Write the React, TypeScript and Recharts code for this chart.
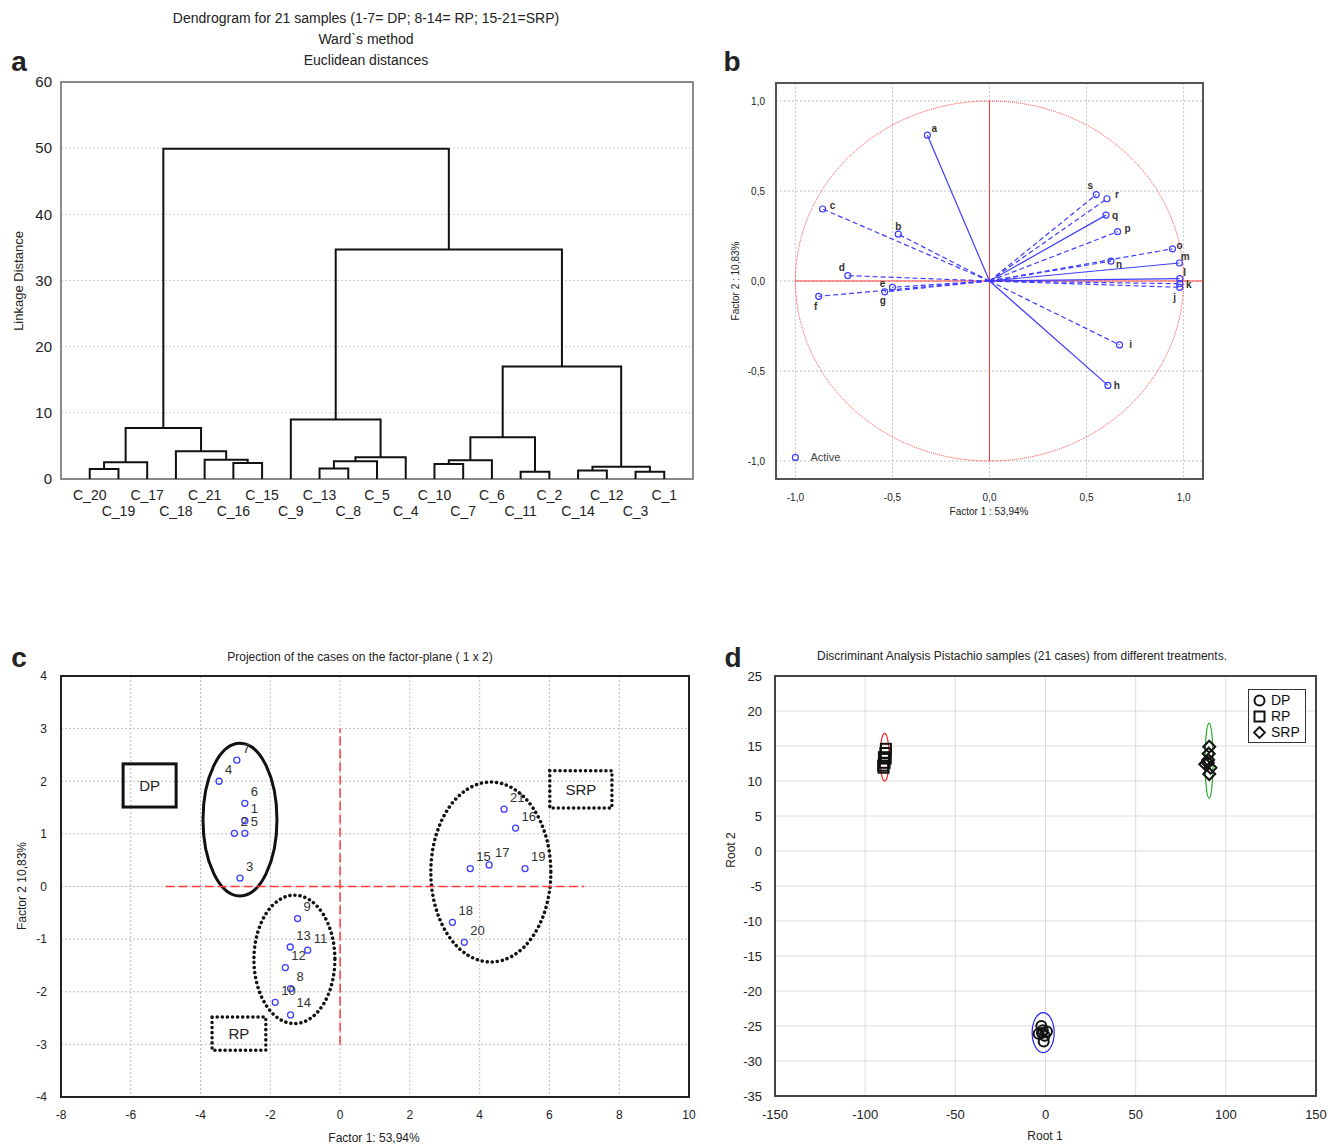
import React from 'react';
import { ScatterChart, Scatter, XAxis, YAxis, CartesianGrid, ReferenceArea, ReferenceLine, ReferenceDot, Legend } from 'recharts';

const FONT = '"Liberation Sans", Arial, Helvetica, sans-serif';
const TXT = '#222';

// ---------------- Panel a: dendrogram ----------------
const leafLabels = ['C_20','C_19','C_17','C_18','C_21','C_16','C_15','C_9','C_13','C_8','C_5','C_4','C_10','C_7','C_6','C_11','C_2','C_14','C_12','C_3','C_1'];
// merge k creates cluster id 21 + k (leaf ids 0..20)
const mergeLeft = [0, 21, 5, 4, 3, 22, 8, 27, 28, 7, 12, 31, 15, 32, 17, 19, 35, 34, 30, 26];
const mergeRight = [1, 2, 6, 23, 24, 25, 9, 10, 11, 29, 13, 14, 16, 33, 18, 20, 36, 37, 38, 39];
const mergeHeight = [1.5, 2.55, 2.4, 2.9, 4.2, 7.7, 1.6, 2.7, 3.3, 9.0, 2.25, 2.85, 1.1, 6.3, 1.3, 1.1, 1.85, 17.0, 34.7, 49.9];
const linkageTicks = [0, 10, 20, 30, 40, 50, 60];

// ---------------- Panel b: loadings ----------------
const varNames = ['a','b','c','d','e','f','g','h','i','j','k','l','m','n','o','p','q','r','s'];
const loadF1 = [-0.32, -0.47, -0.86, -0.73, -0.50, -0.88, -0.54, 0.61, 0.67, 0.98, 0.98, 0.98, 0.978, 0.626, 0.943, 0.66, 0.60, 0.605, 0.55];
const loadF2 = [0.81, 0.26, 0.40, 0.03, -0.035, -0.085, -0.06, -0.58, -0.355, -0.035, -0.015, 0.013, 0.10, 0.11, 0.179, 0.274, 0.366, 0.457, 0.48];
const solidVars = ['a', 'h', 'l', 'm', 'q'];
const loadTicks = [-1, -0.5, 0, 0.5, 1];

// ---------------- Panel c: case scores ----------------
const caseIds = ['1','2','3','4','5','6','7','8','9','10','11','12','13','14','15','16','17','18','19','20','21'];
const caseF1 = [-2.73, -3.03, -2.87, -3.47, -2.73, -2.73, -2.96, -1.42, -1.22, -1.86, -0.93, -1.57, -1.43, -1.42, 3.73, 5.03, 4.27, 3.22, 5.30, 3.56, 4.70];
const caseF2 = [1.25, 1.01, 0.16, 2.0, 1.01, 1.58, 2.40, -1.94, -0.61, -2.20, -1.21, -1.54, -1.15, -2.44, 0.34, 1.11, 0.41, -0.68, 0.34, -1.06, 1.47];
const groupNames = ['DP', 'RP', 'SRP'];
const groupEllX = [-2.87, -1.31, 4.32];
const groupEllY = [1.27, -1.385, 0.275];
const groupEllRx = [1.06, 1.16, 1.72];
const groupEllRy = [1.45, 1.22, 1.71];
const groupBoxX1 = [-6.22, -3.67, 6.01];
const groupBoxX2 = [-4.70, -2.13, 7.79];
const groupBoxY1 = [1.51, -3.11, 1.49];
const groupBoxY2 = [2.33, -2.48, 2.20];
const cXTicks = [-8, -6, -4, -2, 0, 2, 4, 6, 8, 10];
const cYTicks = [-4, -3, -2, -1, 0, 1, 2, 3, 4];

// ---------------- Panel d: discriminant roots ----------------
const dpRoot1 = [-2.3, 0.8, -3.8, -1.0, -1.5, -0.5, -2.0];
const dpRoot2 = [-25.0, -25.8, -26.1, -27.2, -25.6, -26.4, -26.0];
const rpRoot1 = [-88.5, -88.8, -89.6, -88.6, -90.0, -89.8, -89.2];
const rpRoot2 = [14.6, 14.0, 13.4, 13.2, 12.2, 11.9, 12.6];
const srpRoot1 = [90.8, 90.5, 90.2, 88.6, 91.5, 90.8, 90.0];
const srpRoot2 = [14.9, 13.9, 13.0, 12.4, 11.9, 11.0, 12.6];
const rootEllX = [-1.3, -89.2, 90.7];
const rootEllY = [-25.95, 13.4, 12.9];
const rootEllRx = [6.1, 2.5, 2.2];
const rootEllRy = [2.86, 3.4, 5.36];
const dXTicks = [-150, -100, -50, 0, 50, 100, 150];
const dYTicks = [25, 20, 15, 10, 5, 0, -5, -10, -15, -20, -25, -30, -35];

// ---------------- styling maps ----------------
const BLUE = '#3d3dff';
const RED = '#ff3b3b';
const vecLabelOffset: Record<string, [number, number]> = {
  a: [7, -7], b: [0, -8], c: [10, -4], d: [-6, -8], e: [-10, -4], f: [-3, 10], g: [-2, 9],
  h: [9, 0], i: [11, 0], j: [-5, 10], k: [9, 1], l: [5, -6], m: [6, -7], n: [8, 3],
  o: [7, -3], p: [10, -3], q: [9, 0], r: [10, -4], s: [-6, -9],
};
const ellColors = ['#2222ff', '#ff2222', '#22aa22'];

// ---------------- derived data ----------------
const dendroLinks = (() => {
  const pos = leafLabels.map((_, i) => ({ x: i + 1, y: 0 }));
  const links: { x: number; y: number }[][] = [];
  mergeLeft.forEach((a, k) => {
    const b = mergeRight[k];
    const h = mergeHeight[k];
    const A = pos[a];
    const B = pos[b];
    links.push([{ x: A.x, y: A.y }, { x: A.x, y: h }, { x: B.x, y: h }, { x: B.x, y: B.y }]);
    pos.push({ x: (A.x + B.x) / 2, y: h });
  });
  return links;
})();
const leafTicks = leafLabels.map((_, i) => i + 1);

const vectors = varNames.map((name, i) => ({
  name,
  solid: solidVars.includes(name),
  data: [{ x: 0, y: 0, tip: false, name }, { x: loadF1[i], y: loadF2[i], tip: true, name }],
}));

const cases = caseIds.map((id, i) => ({ x: caseF1[i], y: caseF2[i], id }));
const dpPts = dpRoot1.map((x, i) => ({ x, y: dpRoot2[i] }));
const rpPts = rpRoot1.map((x, i) => ({ x, y: rpRoot2[i] }));
const srpPts = srpRoot1.map((x, i) => ({ x, y: srpRoot2[i] }));

const Empty = () => <g />;

function T(p: { x: number; y: number; size: number; children: React.ReactNode; bold?: boolean; rotate?: boolean }) {
  return (
    <div
      style={{
        position: 'absolute', left: p.x, top: p.y,
        transform: `translate(-50%,-50%)${p.rotate ? ' rotate(-90deg)' : ''}`,
        fontSize: p.size, fontWeight: p.bold ? 700 : 400, fontFamily: FONT,
        whiteSpace: 'nowrap', color: TXT, lineHeight: 1,
      }}
    >
      {p.children}
    </div>
  );
}

// ---------------- Panel A ----------------
function LeafTick(props: any) {
  const { x, y, payload } = props;
  const i = Math.round(payload.value) - 1;
  if (i < 0 || i >= leafLabels.length) return <g />;
  return (
    <text x={x} y={y + (i % 2 === 0 ? 21 : 37)} textAnchor="middle" fontSize={14} fill={TXT} fontFamily={FONT}>
      {leafLabels[i]}
    </text>
  );
}

function PanelA() {
  return (
    <ScatterChart width={700} height={530} margin={{ top: 82, right: 7, bottom: 6, left: 0 }}>
      <CartesianGrid vertical={false} stroke="#cfcfcf" strokeDasharray="2 2" />
      <XAxis type="number" dataKey="x" domain={[0, 22]} ticks={leafTicks} interval={0} tick={LeafTick}
        tickLine={false} axisLine={false} tickSize={0} tickMargin={0} height={45} allowDataOverflow />
      <YAxis type="number" dataKey="y" domain={[0, 60]} ticks={linkageTicks} interval={0} tickLine={false}
        axisLine={false} width={61} tickSize={0} tickMargin={9}
        tick={{ fontSize: 15, fill: TXT, fontFamily: FONT }} allowDataOverflow />
      {dendroLinks.map((pts, k) => (
        <Scatter key={k} data={pts} line={{ stroke: '#111', strokeWidth: 2 }} shape={Empty} isAnimationActive={false} />
      ))}
      <ReferenceArea x1={0} x2={22} y1={0} y2={60} fill="none" stroke="#666" strokeWidth={1.5} ifOverflow="visible" />
    </ScatterChart>
  );
}

// ---------------- Panel B ----------------
const comma = (v: number) => v.toFixed(1).replace('.', ',');

function makeVecShape(name: string) {
  return (p: any) => {
    if (!p || !p.payload || !p.payload.tip) return <g />;
    const off = vecLabelOffset[name] || [8, -6];
    return (
      <g>
        <circle cx={p.cx} cy={p.cy} r={3} fill="none" stroke={BLUE} strokeWidth={1.2} />
        <text x={p.cx + off[0]} y={p.cy + off[1]} textAnchor="middle" dominantBaseline="central"
          fontSize={10} fontWeight={700} fill="#333" fontFamily={FONT}>{name}</text>
      </g>
    );
  };
}

const EllipseShape = (stroke: string, width: number, dash?: string, cap?: string) => (p: any) => (
  <ellipse cx={p.x + p.width / 2} cy={p.y + p.height / 2} rx={Math.abs(p.width / 2)} ry={Math.abs(p.height / 2)}
    fill="none" stroke={stroke} strokeWidth={width} strokeDasharray={dash} strokeLinecap={cap as any} />
);

function PanelB() {
  return (
    <ScatterChart width={500} height={470} margin={{ top: 23, right: 17, bottom: 26, left: 16 }}>
      <CartesianGrid stroke="#c4c4c4" strokeDasharray="2 2" />
      <XAxis type="number" dataKey="x" domain={[-1.1, 1.1]} ticks={loadTicks} interval={0} tickFormatter={comma}
        tickLine={false} axisLine={false} height={25} tickMargin={9} tick={{ fontSize: 10, fill: TXT, fontFamily: FONT }} allowDataOverflow />
      <YAxis type="number" dataKey="y" domain={[-1.1, 1.1]} ticks={loadTicks} interval={0} tickFormatter={comma}
        tickLine={false} axisLine={false} width={40} tickMargin={5} tick={{ fontSize: 10, fill: TXT, fontFamily: FONT }} allowDataOverflow />
      <ReferenceArea x1={-1} x2={1} y1={-1} y2={1} shape={EllipseShape(RED, 1, '1 1')} ifOverflow="visible" />
      <ReferenceLine segment={[{ x: -1, y: 0 }, { x: 1.1, y: 0 }]} stroke={RED} strokeWidth={1} ifOverflow="visible" />
      <ReferenceLine segment={[{ x: 0, y: -1 }, { x: 0, y: 1 }]} stroke={RED} strokeWidth={1} ifOverflow="visible" />
      {vectors.map((v) => (
        <Scatter key={v.name} data={v.data} isAnimationActive={false}
          line={{ stroke: BLUE, strokeWidth: 1.2, strokeDasharray: v.solid ? undefined : '5 3' }}
          shape={makeVecShape(v.name)} />
      ))}
      <ReferenceDot x={-1} y={-0.98} ifOverflow="visible"
        shape={(p: any) => (
          <g>
            <circle cx={p.cx} cy={p.cy} r={3} fill="none" stroke={BLUE} strokeWidth={1.2} />
            <text x={p.cx + 15} y={p.cy} dominantBaseline="central" fontSize={11} fill="#444" fontFamily={FONT}>Active</text>
          </g>
        )} />
      <ReferenceArea x1={-1.1} x2={1.1} y1={-1.1} y2={1.1} fill="none" stroke="#555" strokeWidth={2} ifOverflow="visible" />
    </ScatterChart>
  );
}

// ---------------- Panel C ----------------
const CaseShape = (p: any) => (
  <g>
    <circle cx={p.cx} cy={p.cy} r={3} fill="none" stroke={BLUE} strokeWidth={1.3} />
    <text x={p.cx + 6} y={p.cy - 12} dominantBaseline="central" fontSize={13} fill="#333" fontFamily={FONT}>{p.payload.id}</text>
  </g>
);

const BoxShape = (label: string, dotted: boolean) => (p: any) => (
  <g>
    <rect x={p.x} y={p.y} width={p.width} height={p.height} fill="none" stroke="#111"
      strokeWidth={dotted ? 3.5 : 3} strokeDasharray={dotted ? '0.1 5' : undefined} strokeLinecap={dotted ? 'round' : undefined} />
    <text x={p.x + p.width / 2} y={p.y + p.height / 2} textAnchor="middle" dominantBaseline="central"
      fontSize={15} fill="#222" fontFamily={FONT}>{label}</text>
  </g>
);

function PanelC() {
  return (
    <ScatterChart width={700} height={506} margin={{ top: 36, right: 11, bottom: 24, left: 26 }}>
      <CartesianGrid stroke="#bdbdbd" strokeDasharray="2 2" />
      <XAxis type="number" dataKey="x" domain={[-8, 10]} ticks={cXTicks} interval={0} tickLine={false} axisLine={false}
        height={25} tickMargin={7} tick={{ fontSize: 12, fill: TXT, fontFamily: FONT }} allowDataOverflow />
      <YAxis type="number" dataKey="y" domain={[-4, 4]} ticks={cYTicks} interval={0} tickLine={false} axisLine={false}
        width={35} tickMargin={8} tick={{ fontSize: 12, fill: TXT, fontFamily: FONT }} allowDataOverflow />
      <ReferenceLine segment={[{ x: -5, y: 0 }, { x: 7, y: 0 }]} stroke={RED} strokeWidth={1.5} strokeDasharray="9 4" />
      <ReferenceLine segment={[{ x: 0, y: -3 }, { x: 0, y: 3 }]} stroke={RED} strokeWidth={1.5} strokeDasharray="9 4" />
      {groupNames.map((g, i) => (
        <ReferenceArea key={'e' + g} x1={groupEllX[i] - groupEllRx[i]} x2={groupEllX[i] + groupEllRx[i]}
          y1={groupEllY[i] - groupEllRy[i]} y2={groupEllY[i] + groupEllRy[i]} ifOverflow="visible"
          shape={i === 0 ? EllipseShape('#111', 3) : EllipseShape('#111', 3.5, '0.1 5', 'round')} />
      ))}
      {groupNames.map((g, i) => (
        <ReferenceArea key={'b' + g} x1={groupBoxX1[i]} x2={groupBoxX2[i]} y1={groupBoxY1[i]} y2={groupBoxY2[i]}
          ifOverflow="visible" shape={BoxShape(g, i !== 0)} />
      ))}
      <Scatter data={cases} shape={CaseShape} isAnimationActive={false} />
      <ReferenceArea x1={-8} x2={10} y1={-4} y2={4} fill="none" stroke="#222" strokeWidth={2} ifOverflow="visible" />
    </ScatterChart>
  );
}

// ---------------- Panel D ----------------
const CircleMark = (p: any) => <circle cx={p.cx} cy={p.cy} r={5} fill="none" stroke="#111" strokeWidth={2} />;
const SquareMark = (p: any) => <rect x={p.cx - 5} y={p.cy - 5} width={10} height={10} fill="none" stroke="#111" strokeWidth={2} />;
const DiamondMark = (p: any) => (
  <polygon points={`${p.cx},${p.cy - 6} ${p.cx + 6},${p.cy} ${p.cx},${p.cy + 6} ${p.cx - 6},${p.cy}`} fill="none" stroke="#111" strokeWidth={2} />
);

const DLegend = () => (
  <div style={{ border: '1.5px solid #333', background: '#fff', padding: '2px 4px', fontFamily: FONT, fontSize: 14, color: '#111', lineHeight: '16px', width: 48 }}>
    {[['DP', 'c'], ['RP', 's'], ['SRP', 'd']].map(([t, k]) => (
      <div key={t} style={{ display: 'flex', alignItems: 'center', gap: 5 }}>
        <svg width={13} height={13}>
          {k === 'c' && <circle cx={6.5} cy={6.5} r={5} fill="none" stroke="#111" strokeWidth={2} />}
          {k === 's' && <rect x={1.5} y={1.5} width={10} height={10} fill="none" stroke="#111" strokeWidth={2} />}
          {k === 'd' && <polygon points="6.5,1 12,6.5 6.5,12 1,6.5" fill="none" stroke="#111" strokeWidth={1.8} />}
        </svg>
        <span>{t}</span>
      </div>
    ))}
  </div>
);

function PanelD() {
  return (
    <ScatterChart width={621} height={506} margin={{ top: 36, right: 25, bottom: 25, left: 15 }}>
      <CartesianGrid stroke="#dcdcdc" />
      <XAxis type="number" dataKey="x" domain={[-150, 150]} ticks={dXTicks} interval={0} tickLine={false} axisLine={false}
        height={25} tickMargin={8} tick={{ fontSize: 13, fill: TXT, fontFamily: FONT }} allowDataOverflow />
      <YAxis type="number" dataKey="y" domain={[-35, 25]} ticks={dYTicks} interval={0} tickLine={false} axisLine={false}
        width={40} tickMargin={7} tick={{ fontSize: 13, fill: TXT, fontFamily: FONT }} allowDataOverflow />
      {rootEllX.map((cx, i) => (
        <ReferenceArea key={'re' + i} x1={cx - rootEllRx[i]} x2={cx + rootEllRx[i]} y1={rootEllY[i] - rootEllRy[i]}
          y2={rootEllY[i] + rootEllRy[i]} ifOverflow="visible" shape={EllipseShape(ellColors[i], 1.2)} />
      ))}
      <Scatter name="DP" data={dpPts} shape={CircleMark} isAnimationActive={false} />
      <Scatter name="RP" data={rpPts} shape={SquareMark} isAnimationActive={false} />
      <Scatter name="SRP" data={srpPts} shape={DiamondMark} isAnimationActive={false} />
      <Legend content={DLegend} layout="horizontal" verticalAlign="middle" align="center"
        wrapperStyle={{ position: 'absolute', left: 528, top: 49, width: 58, height: 52, bottom: 'auto', right: 'auto' }} />
      <ReferenceArea x1={-150} x2={150} y1={-35} y2={25} fill="none" stroke="#444" strokeWidth={2} ifOverflow="visible" />
    </ScatterChart>
  );
}

export default function App() {
  return (
    <div style={{ position: 'absolute', left: 0, top: 0, width: 1341, height: 1146, background: '#fff', overflow: 'hidden', fontFamily: FONT }}>
      <T x={19} y={62} size={28} bold>a</T>
      <T x={366} y={18} size={14}>Dendrogram for 21 samples (1-7= DP; 8-14= RP; 15-21=SRP)</T>
      <T x={366} y={39} size={14}>Ward`s method</T>
      <T x={366} y={60} size={14}>Euclidean distances</T>
      <T x={18} y={281} size={13} rotate>Linkage Distance</T>

      <T x={732} y={62} size={28} bold>b</T>
      <T x={989} y={512} size={10}>Factor 1 : 53,94%</T>
      <T x={736} y={281} size={10} rotate>Factor 2 : 10,83%</T>

      <T x={19} y={658} size={28} bold>c</T>
      <T x={360} y={657} size={12}>Projection of the cases on the factor-plane (  1 x  2)</T>
      <T x={374} y={1138} size={12}>Factor 1: 53,94%</T>
      <T x={22} y={886} size={12} rotate>Factor 2 10,83%</T>

      <T x={733} y={658} size={28} bold>d</T>
      <T x={1022} y={656} size={12}>Discriminant Analysis Pistachio samples (21 cases) from different treatments.</T>
      <T x={1045} y={1136} size={12}>Root 1</T>
      <T x={731} y={850} size={12} rotate>Root 2</T>

      <div style={{ position: 'absolute', left: 0, top: 0 }}><PanelA /></div>
      <div style={{ position: 'absolute', left: 720, top: 60 }}><PanelB /></div>
      <div style={{ position: 'absolute', left: 0, top: 640 }}><PanelC /></div>
      <div style={{ position: 'absolute', left: 720, top: 640 }}><PanelD /></div>
    </div>
  );
}
